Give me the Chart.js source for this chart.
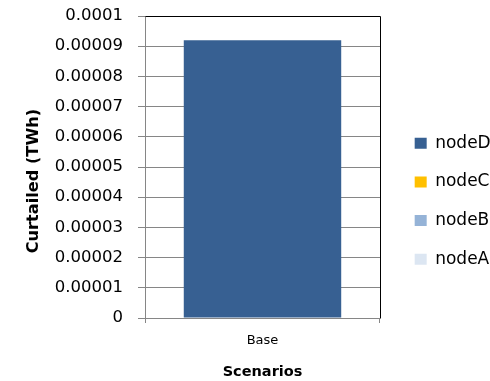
<!DOCTYPE html>
<html>
<head>
<meta charset="utf-8">
<script src="https://cdn.jsdelivr.net/npm/chart.js@4/dist/chart.umd.min.js"></script>
<style>
  html, body { margin: 0; padding: 0; background: #fff; }
  #wrap { width: 490px; height: 381px; }
</style>
</head>
<body>
<div id="wrap"><canvas id="curtChart" width="490" height="381"></canvas></div>
<script>
// data
const scenarios = ["Base"];
const nodeA = [0];
const nodeB = [0];
const nodeC = [0];
const nodeD = [0.000092];
const yTickValues = [0, 0.00001, 0.00002, 0.00003, 0.00004, 0.00005, 0.00006, 0.00007, 0.00008, 0.00009, 0.0001];
const yTickLabels = ["0", "0.00001", "0.00002", "0.00003", "0.00004", "0.00005", "0.00006", "0.00007", "0.00008", "0.00009", "0.0001"];

const axisGrey = "#868686";
Chart.defaults.font.family = "DejaVu Sans";
Chart.defaults.color = "#000";

// put the legend where Excel had it: a bit right of the plot, lower than centre
const legendNudge = {
  id: "legendNudge",
  afterLayout(chart) {
    const lg = chart.legend;
    if (!lg) return;
    lg.left += 13; lg.right += 13;
    lg.top = 113; lg.bottom = chart.height;
  }
};

// black top/right edge of the plot area
const plotBorder = {
  id: "plotBorder",
  afterDraw(chart) {
    const { ctx, chartArea: a } = chart;
    ctx.save();
    ctx.strokeStyle = "#000";
    ctx.lineWidth = 1;
    ctx.beginPath();
    ctx.moveTo(Math.round(a.left) + 0.5, Math.round(a.top) + 0.5);
    ctx.lineTo(Math.round(a.right) + 0.5, Math.round(a.top) + 0.5);
    ctx.lineTo(Math.round(a.right) + 0.5, Math.round(a.bottom) + 0.5);
    ctx.stroke();
    ctx.restore();
  }
};

const ctx = document.getElementById("curtChart").getContext("2d");
const curtChart = new Chart(ctx, {
  type: "bar",
  data: {
    labels: scenarios,
    datasets: [
      { label: "nodeA", data: nodeA, backgroundColor: "#DCE6F2" },
      { label: "nodeB", data: nodeB, backgroundColor: "#95B3D7" },
      { label: "nodeC", data: nodeC, backgroundColor: "#FFC000" },
      { label: "nodeD", data: nodeD, backgroundColor: "#376092" },
    ],
  },
  options: {
    responsive: false,
    animation: false,
    layout: { padding: { top: 16, right: 2.3, left: 14, bottom: 0 } },
    datasets: { bar: { categoryPercentage: 1, barPercentage: 0.67, borderWidth: 0 } },
    plugins: {
      tooltip: { enabled: false },
      legend: {
        position: "right",
        align: "start",
        reverse: true,
        labels: { boxWidth: 12, boxHeight: 11, padding: 21.7, color: "#000", font: { size: 17 } },
      },
    },
    scales: {
      x: {
        stacked: true,
        offset: true,
        grid: { display: true, drawOnChartArea: false, offset: true, tickLength: 5, color: axisGrey },
        border: { color: axisGrey },
        ticks: { padding: 10, font: { size: 13 }, color: "#000" },
        title: { display: true, text: "Scenarios", font: { size: 14.5, weight: "bold" }, padding: { top: 0, bottom: 0 }, color: "#000" },
        afterFit: (s) => { s.height = 63; },
      },
      y: {
        stacked: true,
        min: 0,
        max: 0.0001,
        afterBuildTicks: (s) => { s.ticks = yTickValues.map((v) => ({ value: v })); },
        grid: { color: axisGrey, tickLength: 7 },
        border: { color: axisGrey },
        ticks: { padding: 15, font: { size: 16.5 }, color: "#000", callback: (v, i) => yTickLabels[i] },
        // trailing spaces push the rotated title a little below the middle, as in the original
        title: { display: true, text: "Curtailed (TWh)     ", font: { size: 16.2, weight: "bold" }, padding: 10, color: "#000" },
        afterFit: (s) => {
          s.width = 131;
          // the label padding would otherwise push the plot top down
          s.paddingTop = 0;
          s.paddingBottom = 0;
        },
      },
    },
  },
  plugins: [legendNudge, plotBorder],
});
</script>
</body>
</html>
